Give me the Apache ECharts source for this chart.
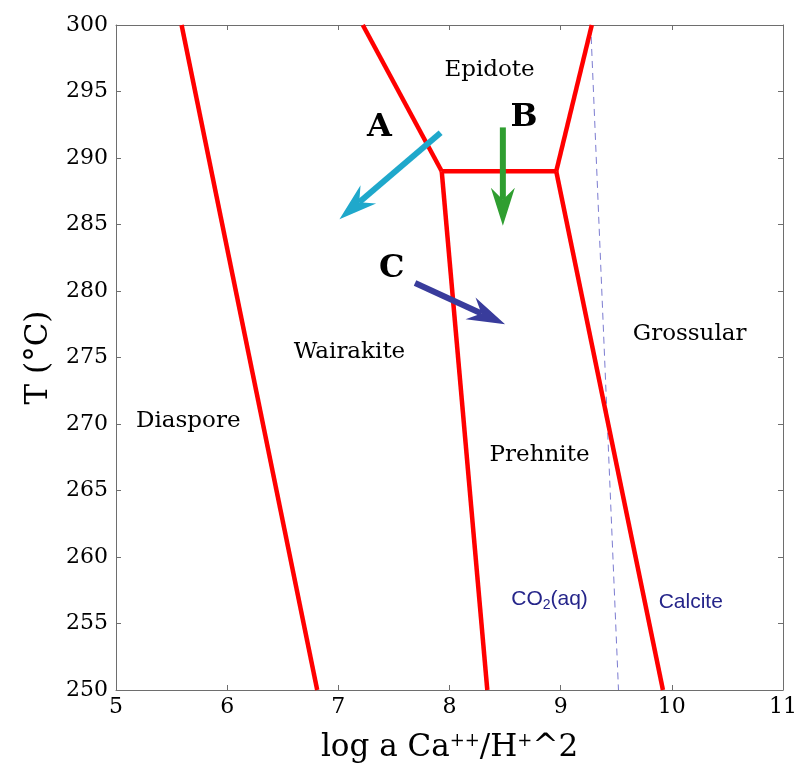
<!DOCTYPE html>
<html>
<head>
<meta charset="utf-8">
<script src="https://cdn.jsdelivr.net/npm/echarts@6/dist/echarts.min.js"></script>
<style>
  html, body { margin: 0; padding: 0; background: #fff; }
  #chart { width: 800px; height: 768px; }
</style>
</head>
<body>
<div id="chart"></div>
<script>
// Phase boundaries: [log a Ca++/H+^2, T (°C)]
const diasporeWairakite = [[5.59, 300], [6.81, 250]];
const wairakiteEpidote  = [[7.22, 300], [7.93, 289]];
const epidotePrehnite   = [[7.93, 289], [8.96, 289]];
const epidoteGrossular  = [[8.96, 289], [9.28, 300]];
const wairakitePrehnite = [[7.93, 289], [8.34, 250]];
const prehniteGrossular = [[8.96, 289], [9.92, 250]];
// CO2(aq) / calcite saturation
const co2Calcite = [[9.27, 300], [9.52, 250]];

// Reaction-path arrows: [x0, y0, x1, y1]
const arrowA = [7.92, 291.9, 7.01, 285.4];
const arrowB = [8.48, 292.3, 8.48, 284.9];
const arrowC = [7.69, 280.6, 8.50, 277.5];

// Field names [x, y, text]
const fieldLabels = [
  [8.36, 296.6, 'Epidote'],
  [7.10, 275.4, 'Wairakite'],
  [5.65, 270.2, 'Diaspore'],
  [8.81, 267.7, 'Prehnite'],
  [10.16, 276.8, 'Grossular']
];
const pathLabels = [
  [7.37, 292.3, 'A'],
  [8.67, 293.0, 'B'],
  [7.48, 281.7, 'C']
];
const carbonLabels = [
  [8.90, 256.8, '{a|CO}{s|2}{a|(aq)}'],
  [10.17, 256.6, '{a|Calcite}']
];

const xTicks = [5, 6, 7, 8, 9, 10, 11];
const yTicks = [250, 255, 260, 265, 270, 275, 280, 285, 290, 295, 300];

const serif = 'DejaVu Serif';
const frame = '#6e6e6e';

function boundary(data) {
  return {
    type: 'line', data: data, symbol: 'none', silent: true,
    lineStyle: { color: '#ff0000', width: 4.5, cap: 'butt', join: 'miter' },
    z: 3
  };
}

function arrowSeries(arrow, color) {
  return {
    type: 'custom', silent: true, z: 5,
    data: [arrow],
    renderItem: function (params, api) {
      const p0 = api.coord([api.value(0), api.value(1)]);
      const p1 = api.coord([api.value(2), api.value(3)]);
      const dx = p1[0] - p0[0], dy = p1[1] - p0[1];
      const len = Math.sqrt(dx * dx + dy * dy);
      const ux = dx / len, uy = dy / len;
      const nx = -uy, ny = ux;
      const headLen = 38, notch = 26, halfW = 12;
      const base = [p1[0] - ux * headLen, p1[1] - uy * headLen];
      const neck = [p1[0] - ux * notch, p1[1] - uy * notch];
      return {
        type: 'group',
        children: [
          {
            type: 'line',
            shape: { x1: p0[0], y1: p0[1], x2: neck[0], y2: neck[1] },
            style: { stroke: color, lineWidth: 6 }
          },
          {
            type: 'polygon',
            shape: {
              points: [
                p1,
                [base[0] + nx * halfW, base[1] + ny * halfW],
                neck,
                [base[0] - nx * halfW, base[1] - ny * halfW]
              ]
            },
            style: { fill: color }
          }
        ]
      };
    }
  };
}

function textSeries(data, textStyle) {
  return {
    type: 'scatter', silent: true, z: 6,
    data: data, symbolSize: 0,
    itemStyle: { opacity: 1 },
    label: Object.assign({
      show: true, position: 'inside', opacity: 1,
      formatter: function (p) { return p.value[2]; }
    }, textStyle)
  };
}

const chart = echarts.init(document.getElementById('chart'), null, { renderer: 'canvas' });

const axisCommon = {
  type: 'value',
  axisLine: { show: true, lineStyle: { color: frame, width: 1 } },
  axisTick: { show: true, inside: true, length: 5, lineStyle: { color: frame } },
  splitLine: { show: false }
};

chart.setOption({
  animation: false,
  backgroundColor: '#ffffff',
  grid: { left: 116, right: 16, top: 25, bottom: 73, containLabel: false },
  xAxis: [
    Object.assign({}, axisCommon, {
      min: 5, max: 11, interval: 1, position: 'bottom',
      axisLabel: { color: '#000', fontFamily: serif, fontSize: 22, margin: 6 },
      name: '{n|log a Ca}{s|++}{n|/H}{s|+}{n|^2}',
      nameLocation: 'middle', nameGap: 42,
      nameTextStyle: {
        rich: {
          n: { fontFamily: serif, fontSize: 31, color: '#000' },
          s: { fontFamily: serif, fontSize: 18, color: '#000', verticalAlign: 'top' }
        }
      }
    }),
    Object.assign({}, axisCommon, {
      min: 5, max: 11, interval: 1, position: 'top',
      axisLabel: { show: false }
    })
  ],
  yAxis: [
    Object.assign({}, axisCommon, {
      min: 250, max: 300, interval: 5, position: 'left',
      axisLabel: { color: '#000', fontFamily: serif, fontSize: 22, margin: 8 },
      name: 'T (°C)', nameLocation: 'middle', nameGap: 62, nameRotate: 90,
      nameTextStyle: { fontFamily: serif, fontSize: 31, color: '#000' }
    }),
    Object.assign({}, axisCommon, {
      min: 250, max: 300, interval: 5, position: 'right',
      axisLabel: { show: false }
    })
  ],
  series: [
    {
      type: 'line', data: co2Calcite, symbol: 'none', silent: true, z: 2,
      lineStyle: { color: '#7b7bd0', width: 1, type: [7, 5] }
    },
    boundary(diasporeWairakite),
    boundary(wairakiteEpidote),
    boundary(epidotePrehnite),
    boundary(epidoteGrossular),
    boundary(wairakitePrehnite),
    boundary(prehniteGrossular),
    arrowSeries(arrowA, '#1fa8cb'),
    arrowSeries(arrowB, '#2f9e30'),
    arrowSeries(arrowC, '#393c9c'),
    textSeries(fieldLabels, { fontFamily: serif, fontSize: 23, color: '#000' }),
    textSeries(pathLabels, { fontFamily: serif, fontSize: 32, fontWeight: 'bold', color: '#000' }),
    textSeries(carbonLabels, {
      rich: {
        a: { fontFamily: 'Liberation Sans', fontSize: 21, color: '#25258a', lineHeight: 26 },
        s: { fontFamily: 'Liberation Sans', fontSize: 14, color: '#25258a', verticalAlign: 'bottom', lineHeight: 26 }
      }
    })
  ]
});
</script>
</body>
</html>
